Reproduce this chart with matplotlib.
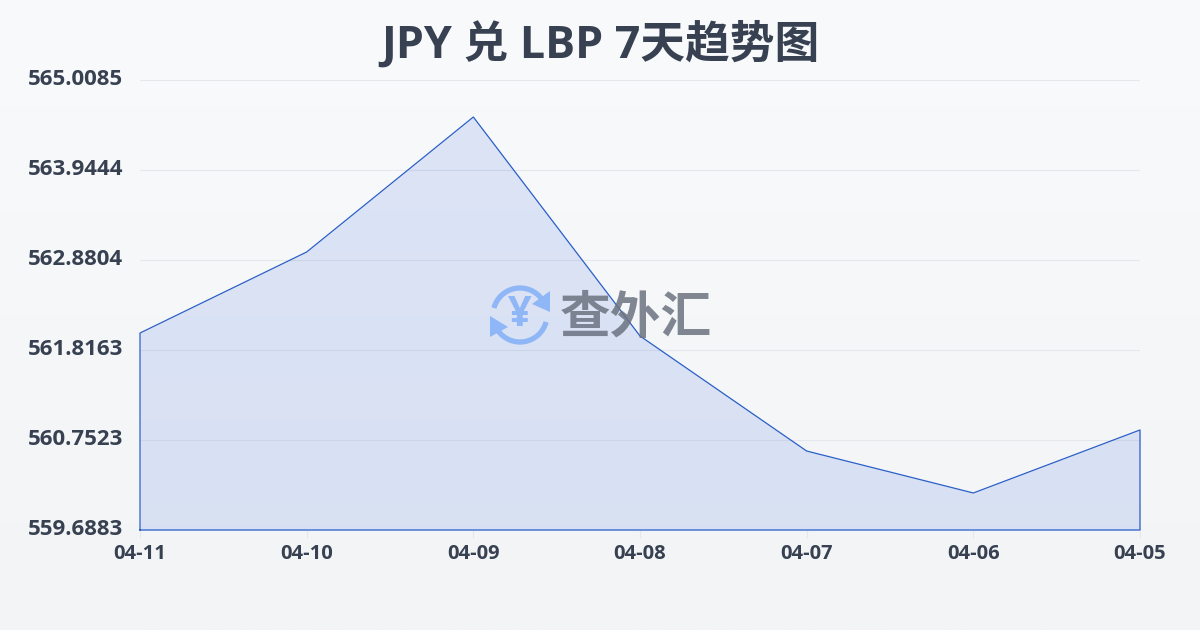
import matplotlib
matplotlib.use('Agg')
from matplotlib import pyplot as plt
from matplotlib.patches import Arc, Polygon
from matplotlib.transforms import ScaledTranslation
import numpy as np

plt.rcParams['font.family'] = ['Open Sans', 'Noto Sans CJK SC', 'DejaVu Sans']

dates = ['04-11', '04-10', '04-09', '04-08', '04-07', '04-06', '04-05']
rates = [562.017, 562.975, 564.571, 561.982, 560.622, 560.126, 560.871]
ytick_vals = [559.6883, 560.7523, 561.8163, 562.8804, 563.9444, 565.0085]
ytick_labels = ['559.6883', '560.7523', '561.8163', '562.8804', '563.9444', '565.0085']

text_col = '#374151'
line_col = '#2a5fc8'

fig = plt.figure(figsize=(12, 6.3), dpi=100)

# background gradient
bg = fig.add_axes([0, 0, 1, 1], zorder=0)
bg.imshow(np.linspace(0, 1, 256).reshape(-1, 1), aspect='auto', extent=(0, 1, 0, 1),
          cmap=matplotlib.colors.LinearSegmentedColormap.from_list('bg', ['#f9fafb', '#f3f4f6']))
bg.axis('off')

ax = fig.add_axes([140/1200, 1-530/630, 1000/1200, 450/630], zorder=1)
ax.patch.set_alpha(0)
x = np.arange(len(dates))
ax.fill_between(x, rates, ytick_vals[0], color='#3b6fe0', alpha=0.15, lw=0, zorder=2)
ax.plot(np.r_[x[0], x, x[-1], x[0]], np.r_[ytick_vals[0], rates, ytick_vals[0], ytick_vals[0]],
        color=line_col, lw=0.9, zorder=3, clip_on=False)
ax.set_xlim(0, 6)
ax.set_ylim(ytick_vals[0], ytick_vals[-1])
ax.set_xticks(x, dates)
ax.set_yticks(ytick_vals, ytick_labels)
ax.grid(axis='y', color='#e4e7ec', lw=0.8)
ax.set_axisbelow(True)
for s in ax.spines.values():
    s.set_visible(False)
ax.tick_params(axis='y', length=0, pad=12, labelsize=16, labelcolor=text_col)
ax.tick_params(axis='x', length=6, width=0.8, color='#e4e7ec', pad=4, labelsize=14.5, labelcolor=text_col)
for t in ax.get_xticklabels() + ax.get_yticklabels():
    t.set_fontweight('bold')
# y labels sit a little above their grid lines
for t in ax.get_yticklabels():
    t.set_transform(t.get_transform() + ScaledTranslation(0, 2/72, fig.dpi_scale_trans))

fig.text(0.5, 1-45/630, 'JPY 兑 LBP 7天趋势图', ha='center', va='center',
         fontsize=32.2, fontweight='bold', color=text_col)

# watermark logo, in pixel coordinates
logo = fig.add_axes([0, 0, 1, 1], zorder=2)
logo.set_xlim(0, 1200)
logo.set_ylim(630, 0)
logo.axis('off')
logo_col = '#8fb6f6'
logo.add_patch(Arc((520, 315), 54, 54, theta1=195, theta2=325, color=logo_col, lw=3.8))
logo.add_patch(Arc((520, 315), 54, 54, theta1=15, theta2=145, color=logo_col, lw=3.8))
logo.add_patch(Polygon([(550, 291), (550, 312), (532, 304)], color=logo_col, lw=0))
logo.add_patch(Polygon([(490, 316), (490, 337), (508, 327)], color=logo_col, lw=0))
logo.text(520, 315, '¥', ha='center', va='center', fontsize=30, fontweight='bold', color=logo_col)
logo.text(636, 320, '查外汇', ha='center', va='center', fontsize=36.5, fontweight='bold', color='#6b7280', alpha=0.85)

fig.savefig('out.png', dpi=100)
